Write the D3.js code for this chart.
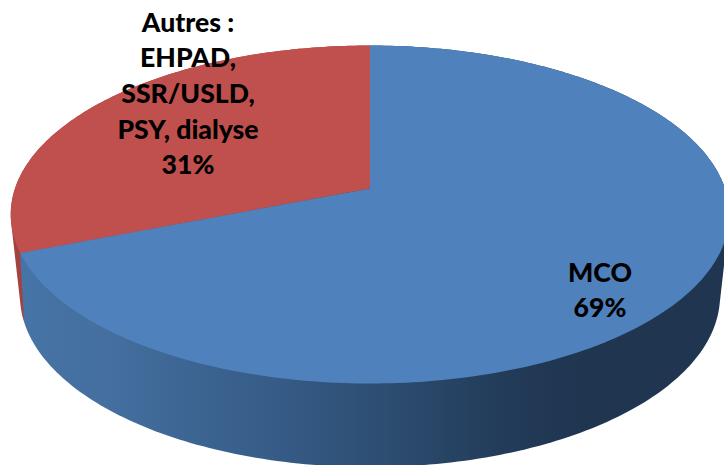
<!DOCTYPE html>
<html>
<head>
<meta charset="utf-8">
<script src="https://cdn.jsdelivr.net/npm/d3@7"></script>
<style>
  html, body { margin: 0; padding: 0; background: #fff; }
  svg { display: block; }
  text { font-family: Lato, "Open Sans", sans-serif; font-weight: 900; font-size: 26.6px; fill: #000; text-anchor: middle; }
</style>
</head>
<body>
<div id="chart"></div>
<script>
// Data
const categories = ["MCO", "Autres"];
const values = [69, 31];
const labelLines = [
  ["MCO", "69%"],
  ["Autres :", "EHPAD,", "SSR/USLD,", "PSY, dialyse", "31%"]
];

// Chart configuration
const width = 724;
const height = 465;
const topColors = ["#4f81bd", "#c0504d"];
const sideColors = ["sideBlue", "sideRed"];

const svg = d3.select("#chart").append("svg")
  .attr("width", width)
  .attr("height", height);

// Side shading
const defs = svg.append("defs");
const blueGrad = defs.append("linearGradient")
  .attr("id", "sideBlue")
  .attr("gradientUnits", "userSpaceOnUse")
  .attr("x1", 20).attr("x2", 724).attr("y1", 0).attr("y2", 0);
[[0, "#4674a6"], [0.12, "#446f9f"], [0.38, "#355a85"], [0.52, "#2d4d71"], [0.68, "#233c5a"], [0.8, "#1f3550"], [1, "#1f3550"]]
  .forEach(s => blueGrad.append("stop").attr("offset", s[0]).attr("stop-color", s[1]));
const redGrad = defs.append("linearGradient")
  .attr("id", "sideRed")
  .attr("gradientUnits", "userSpaceOnUse")
  .attr("x1", 0).attr("x2", 724).attr("y1", 0).attr("y2", 0);
redGrad.append("stop").attr("offset", 0).attr("stop-color", "#a3423f");
redGrad.append("stop").attr("offset", 1).attr("stop-color", "#a3423f");

// Perspective projection of the pie disc, top rim and bottom rim
const project = (rim, angle) => {
  const u = Math.sin(angle);
  const v = -Math.cos(angle);
  const w = 1 - rim.tilt * v;
  return [rim.cx + rim.rx * u / w, rim.cy + rim.ry * v / w];
};
const topRim = { cx: 370, cy: 188.5, rx: 355, ry: 165, tilt: 0.1538 };
const bottomRim = { cx: 370, cy: 256.7, rx: 340.6, ry: 162, tilt: 0.23 };

const pie = d3.pie().sort(null).value(d => d);
const arcs = pie(values);
const line = d3.line();

const rimPoints = (rim, a0, a1) => {
  const n = Math.max(2, Math.ceil((a1 - a0) * 60));
  return d3.range(n + 1).map(i => project(rim, a0 + (a1 - a0) * i / n));
};

// Side walls, red first so the blue wall overlaps it
[1, 0].forEach(i => {
  const a = arcs[i];
  const hull = d3.polygonHull(rimPoints(topRim, a.startAngle, a.endAngle)
    .concat(rimPoints(bottomRim, a.startAngle, a.endAngle)));
  svg.append("path")
    .attr("d", line(hull) + "Z")
    .attr("fill", `url(#${sideColors[i]})`);
});

// Top faces
arcs.forEach((a, i) => {
  const pts = [[topRim.cx, topRim.cy]].concat(rimPoints(topRim, a.startAngle, a.endAngle));
  svg.append("path")
    .attr("d", line(pts) + "Z")
    .attr("fill", topColors[i]);
});

// Labels
const labelAnchors = [
  { x: 600, y: 281.5 },
  { x: 188, y: 31.7 }
];
const lineStep = 35.6;
labelLines.forEach((lines, i) => {
  const t = svg.append("text").attr("class", "label-" + categories[i]);
  lines.forEach((s, j) => {
    t.append("tspan")
      .attr("x", labelAnchors[i].x)
      .attr("y", labelAnchors[i].y + j * lineStep)
      .text(s);
  });
});
</script>
</body>
</html>
